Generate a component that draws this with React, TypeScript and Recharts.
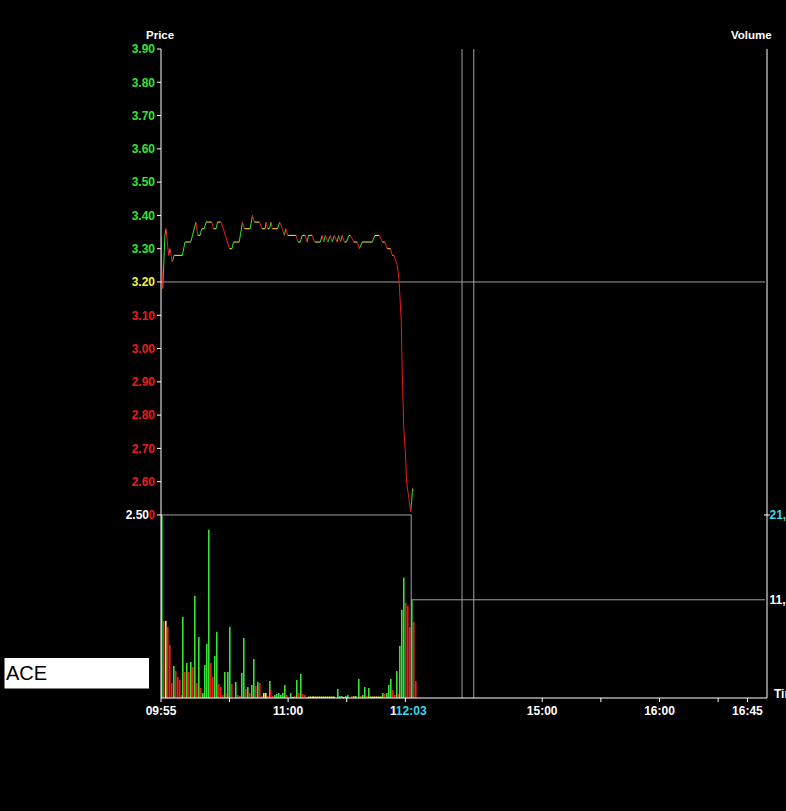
import React from 'react';
import { ComposedChart, Line, Bar, XAxis, YAxis, ReferenceLine } from 'recharts';

// minutes counted from 09:55 on the compressed session axis
const priceTimes = [
  0, 0.3, 0.9, 2.0, 2.6, 3.9, 4.6, 5.8, 6.7, 10.9, 12.3, 15.2, 17.9, 18.8, 20.0, 20.9, 22.1, 23.1,
  26.0, 26.8, 28.2, 28.9, 30.6, 31.9, 35.0, 36.3, 37.1, 40.0, 41.7, 42.6, 45.6, 46.8, 47.7, 50.4,
  51.6, 53.3, 53.8, 54.5, 55.5, 56.3, 56.9, 59.6, 60.7, 62.1, 63.1, 63.8, 64.8, 69.1, 70.1, 71.3,
  72.2, 73.8, 74.7, 75.5, 77.3, 78.6, 81.5, 82.4, 83.2, 84.1, 85.3, 86.7, 87.5, 88.7, 90.1, 90.9,
  91.8, 92.7, 93.8, 94.9, 96.1, 96.9, 98.6, 100.4, 101.5, 102.9, 108.1, 109.4, 111.8, 113.2, 114.5,
  115.7, 117.4, 118.3, 119.1, 120.9, 121.7, 122.2, 122.9, 123.4, 124.2, 125.1, 125.6, 126.8, 127.7,
  128.2, 128.7, 129.4,
];
const priceValues = [
  3.34, 3.26, 3.18, 3.34, 3.36, 3.28, 3.30, 3.26, 3.28, 3.28, 3.32, 3.32, 3.38, 3.34, 3.34, 3.36, 3.36, 3.38,
  3.38, 3.36, 3.36, 3.38, 3.38, 3.36, 3.30, 3.30, 3.32, 3.32, 3.38, 3.36, 3.36, 3.40, 3.38, 3.38,
  3.36, 3.36, 3.38, 3.36, 3.36, 3.38, 3.36, 3.36, 3.38, 3.36, 3.34, 3.36, 3.34, 3.34, 3.32, 3.32,
  3.34, 3.34, 3.32, 3.34, 3.34, 3.32, 3.32, 3.34, 3.32, 3.34, 3.32, 3.34, 3.32, 3.34, 3.32, 3.34,
  3.32, 3.34, 3.32, 3.32, 3.34, 3.34, 3.32, 3.32, 3.30, 3.32, 3.32, 3.34, 3.34, 3.32, 3.32,
  3.30, 3.30, 3.28, 3.28, 3.25, 3.21, 3.16, 3.08, 2.93, 2.76, 2.68, 2.60, 2.55, 2.51,
  2.54, 2.58, 2.57,
];

const volumeTimes = [
  0, 1, 2, 3, 4, 5, 6, 7, 8, 9, 10, 11, 12, 13, 14, 15, 16, 17, 18, 19, 20, 21, 22, 23, 24, 25, 26, 27,
  28, 29, 30, 31, 32, 33, 34, 35, 36, 38, 39, 40, 41, 42, 43, 44, 45, 46, 47, 48, 49, 50, 51, 52, 53,
  54, 55, 56, 57, 58, 59, 60, 61, 62, 63, 64, 66, 67, 68, 69, 70, 71, 72, 73, 74, 75, 76, 77, 78, 79,
  80, 81, 82, 83, 84, 85, 86, 87, 88, 90, 91, 92, 93, 94, 95, 97, 98, 99, 101, 102, 103, 104, 105, 106,
  107, 108, 109, 110, 111, 112, 113, 114, 115, 116, 117, 118, 119, 120, 121, 122, 123, 124, 125, 126,
  127, 128, 129, 130,
];
const volumeValues = [
  21000, 8850, 8850, 8160, 6090, 1720, 3680, 3100, 2410, 2070, 350, 9310, 2990, 4020, 2990, 4140, 3560, 11730, 1720, 7010, 1150, 570, 3790, 6210, 19310, 4020, 2410, 4830,
  7590, 1610, 1260, 350, 2990, 570, 2990, 8160, 1610, 1840, 350, 230, 2870, 6900, 1030, 1260, 570, 1490, 4480, 1380, 1840, 1720, 230, 570, 570,
  230, 1950, 920, 230, 350, 460, 570, 350, 570, 1490, 350, 570, 120, 230, 2070, 570, 2760, 460, 350, 120, 170, 170, 170, 170, 170,
  170, 170, 170, 170, 170, 170, 170, 170, 170, 1030, 230, 230, 120, 230, 350, 230, 230, 230, 2180, 230, 350, 1260, 230, 1150,
  170, 170, 170, 170, 170, 170, 570, 460, 570, 1490, 2180, 920, 350, 3100, 460, 5980, 10120, 13800, 10920, 10580,
  8160, 11270, 8740, 1950,
];
// u = uptick, d = downtick, n = unchanged
const volumeMoves = [
  'u', 'd', 'n', 'd', 'd', 'd', 'u', 'd', 'd', 'd', 'd', 'u', 'd', 'u', 'd', 'u', 'd', 'u', 'd', 'u', 'd', 'u', 'u', 'u', 'u', 'd', 'd', 'u',
  'u', 'd', 'd', 'd', 'u', 'd', 'u', 'u', 'd', 'u', 'd', 'd', 'u', 'u', 'd', 'u', 'd', 'u', 'u', 'd', 'u', 'd', 'd', 'n', 'n',
  'd', 'u', 'd', 'd', 'u', 'u', 'u', 'u', 'u', 'u', 'd', 'u', 'n', 'd', 'u', 'd', 'u', 'd', 'd', 'd', 'n', 'n', 'n', 'n', 'n',
  'n', 'n', 'n', 'n', 'n', 'n', 'n', 'n', 'n', 'u', 'u', 'u', 'n', 'u', 'u', 'd', 'u', 'u', 'u', 'd', 'u', 'u', 'd', 'u',
  'n', 'n', 'n', 'n', 'n', 'n', 'u', 'd', 'u', 'u', 'u', 'd', 'd', 'u', 'd', 'u', 'u', 'u', 'd', 'd',
  'd', 'u', 'd', 'd',
];

const priceTicks = [2.5, 2.6, 2.7, 2.8, 2.9, 3.0, 3.1, 3.2, 3.3, 3.4, 3.5, 3.6, 3.7, 3.8, 3.9];
const prevClose = 3.2;
const timeTicks = [0, 35, 65, 95, 125, 195, 225, 255, 285, 300];
const timeLabels = ['09:55', '', '11:00', '', '12:00', '15:00', '', '16:00', '', '16:45'];
const volumeTicks = [11270, 21000];
const sessionMarks = [154, 160];
const cursorTime = 128;
const cursorTimeLabel = '12:03';
const cursorPrice = 2.5;
const cursorVolume = 11270;
const maxVolume = 21000;
const symbol = 'ACE';

const GREEN = '#35e235';
const RED = '#ec1c1c';
const YELLOW = '#f4f43c';
const CYAN = '#3cd8e8';
const GREY = '#a0a0a0';
const FONT = '"Liberation Sans", Arial, sans-serif';

const moveColor: Record<string, string> = { u: GREEN, d: RED, n: YELLOW };

const volumeRows = volumeTimes.map((t, i) => ({ t, v: volumeValues[i], m: volumeMoves[i] }));

// split the price path into coloured pieces: up green, down red, flat yellow
const pieces: Record<string, { t: number; p: number | null }[]> = { [GREEN]: [], [RED]: [], [YELLOW]: [] };
for (let i = 0; i < priceTimes.length - 1; i++) {
  const a = priceValues[i];
  const b = priceValues[i + 1];
  const c = b > a ? GREEN : b < a ? RED : YELLOW;
  pieces[c].push(
    { t: priceTimes[i], p: a },
    { t: priceTimes[i + 1], p: b },
    { t: priceTimes[i + 1], p: null },
  );
}

const VolumeBar = (props: any) => {
  const { x, y, width, height, index, payload } = props;
  if (!height || height <= 0) return null;
  const px = Math.round(x + width / 2);
  const move = (typeof index === 'number' ? volumeMoves[index] : undefined) ?? payload?.m ?? 'u';
  return <rect x={px} y={y} width={1.6} height={height} fill={moveColor[move]} stroke="none" />;
};

const PriceTick = (props: any) => {
  const { x, y, payload } = props;
  const v = payload.value as number;
  const txt = v.toFixed(2);
  const color = Math.abs(v - prevClose) < 1e-6 ? YELLOW : v > prevClose ? GREEN : RED;
  const isCursor = Math.abs(v - cursorPrice) < 1e-6;
  return (
    <g>
      <text x={x} y={y} dy={4.3} textAnchor="end" fill={color} fontSize={12} fontWeight="bold" fontFamily={FONT}>
        {txt}
      </text>
      {isCursor && (
        <>
          <rect x={x - 31} y={y - 7} width={25.5} height={14} fill="#000" />
          <text x={x - 6} y={y} dy={4.3} textAnchor="end" fill="#fff" fontSize={12} fontWeight="bold" fontFamily={FONT}>
            {txt}
          </text>
        </>
      )}
    </g>
  );
};

const TimeTick = (props: any) => {
  const { x, y, payload } = props;
  const idx = timeTicks.indexOf(payload.value);
  const label = timeLabels[idx];
  const step = 606 / 310;
  const cx = x + (cursorTime - payload.value) * step;
  return (
    <g>
      {label && (
        <text x={x} y={y} dy={11} textAnchor="middle" fill="#fff" fontSize={12} fontWeight="bold" fontFamily={FONT}>
          {label}
        </text>
      )}
      {payload.value === 125 && (
        <>
          <rect x={cx - 15} y={y + 1} width={31} height={13} fill="#000" />
          <text x={cx} y={y} dy={11} textAnchor="middle" fill={CYAN} fontSize={12} fontWeight="bold" fontFamily={FONT}>
            {cursorTimeLabel}
          </text>
        </>
      )}
    </g>
  );
};

const VolumeTick = (props: any) => {
  const { y, payload } = props;
  const v = payload.value as number;
  const isMax = v === maxVolume;
  return (
    <g>
      {isMax && <line x1={764} x2={770} y1={y} y2={y} stroke="#fff" />}
      <text x={769.5} y={y} dy={4.3} fill={isMax ? CYAN : '#fff'} fontSize={12} fontWeight="bold" fontFamily={FONT}>
        {v.toLocaleString('en-US')}
      </text>
    </g>
  );
};

export default function App() {
  return (
    <div style={{ position: 'absolute', left: 0, top: 0, width: 786, height: 811, background: '#000', overflow: 'hidden', fontFamily: FONT }}>
      <ComposedChart width={786} height={811} data={volumeRows} margin={{ top: 49, right: 0, bottom: 0, left: 0 }}>
        <XAxis
          dataKey="t"
          type="number"
          domain={[0, 310]}
          allowDataOverflow
          ticks={timeTicks}
          interval={0}
          height={113}
          stroke="#fff"
          tickSize={4}
          tickMargin={2}
          tick={<TimeTick />}
        />
        <YAxis
          yAxisId="price"
          orientation="left"
          width={161}
          type="number"
          domain={[1.95, 3.9]}
          allowDataOverflow
          ticks={priceTicks}
          interval={0}
          stroke="#fff"
          tickSize={4}
          tickMargin={2}
          tick={<PriceTick />}
        />
        <YAxis
          yAxisId="vol"
          orientation="right"
          width={19}
          type="number"
          domain={[0, 74470]}
          allowDataOverflow
          ticks={volumeTicks}
          interval={0}
          stroke="#fff"
          tickLine={false}
          tickSize={0}
          tick={<VolumeTick />}
        />
        <ReferenceLine yAxisId="price" segment={[{ x: 0, y: prevClose }, { x: 309, y: prevClose }]} stroke={GREY} />
        <ReferenceLine yAxisId="price" segment={[{ x: 0, y: cursorPrice }, { x: cursorTime, y: cursorPrice }]} stroke={GREY} />
        <ReferenceLine yAxisId="price" segment={[{ x: cursorTime, y: cursorPrice }, { x: cursorTime, y: 1.95 }]} stroke={GREY} />
        <ReferenceLine yAxisId="vol" segment={[{ x: cursorTime, y: cursorVolume }, { x: 309, y: cursorVolume }]} stroke={GREY} />
        {sessionMarks.map((m) => (
          <ReferenceLine key={m} yAxisId="price" x={m} stroke={GREY} />
        ))}
        <Bar yAxisId="vol" dataKey="v" barSize={1} fill={GREEN} shape={<VolumeBar />} isAnimationActive={false} />
        {[YELLOW, GREEN, RED].map((c) => (
          <Line
            key={c}
            yAxisId="price"
            data={pieces[c]}
            dataKey="p"
            stroke={c}
            strokeWidth={1}
            dot={false}
            activeDot={false}
            connectNulls={false}
            isAnimationActive={false}
          />
        ))}
      </ComposedChart>
      <svg width={786} height={811} style={{ position: 'absolute', left: 0, top: 0, pointerEvents: 'none' }}>
        <text x={146} y={39} fill="#fff" fontSize={11.5} fontWeight="bold" fontFamily={FONT}>Price</text>
        <text x={731} y={39} fill="#fff" fontSize={11.5} fontWeight="bold" fontFamily={FONT}>Volume</text>
        <text x={774} y={698} fill="#fff" fontSize={12} fontWeight="bold" fontFamily={FONT}>Time</text>
        <rect x={4.5} y={658} width={144.5} height={30.5} fill="#fff" />
        <text x={6} y={680} fill="#000" fontSize={20} fontFamily={FONT}>{symbol}</text>
      </svg>
    </div>
  );
}
